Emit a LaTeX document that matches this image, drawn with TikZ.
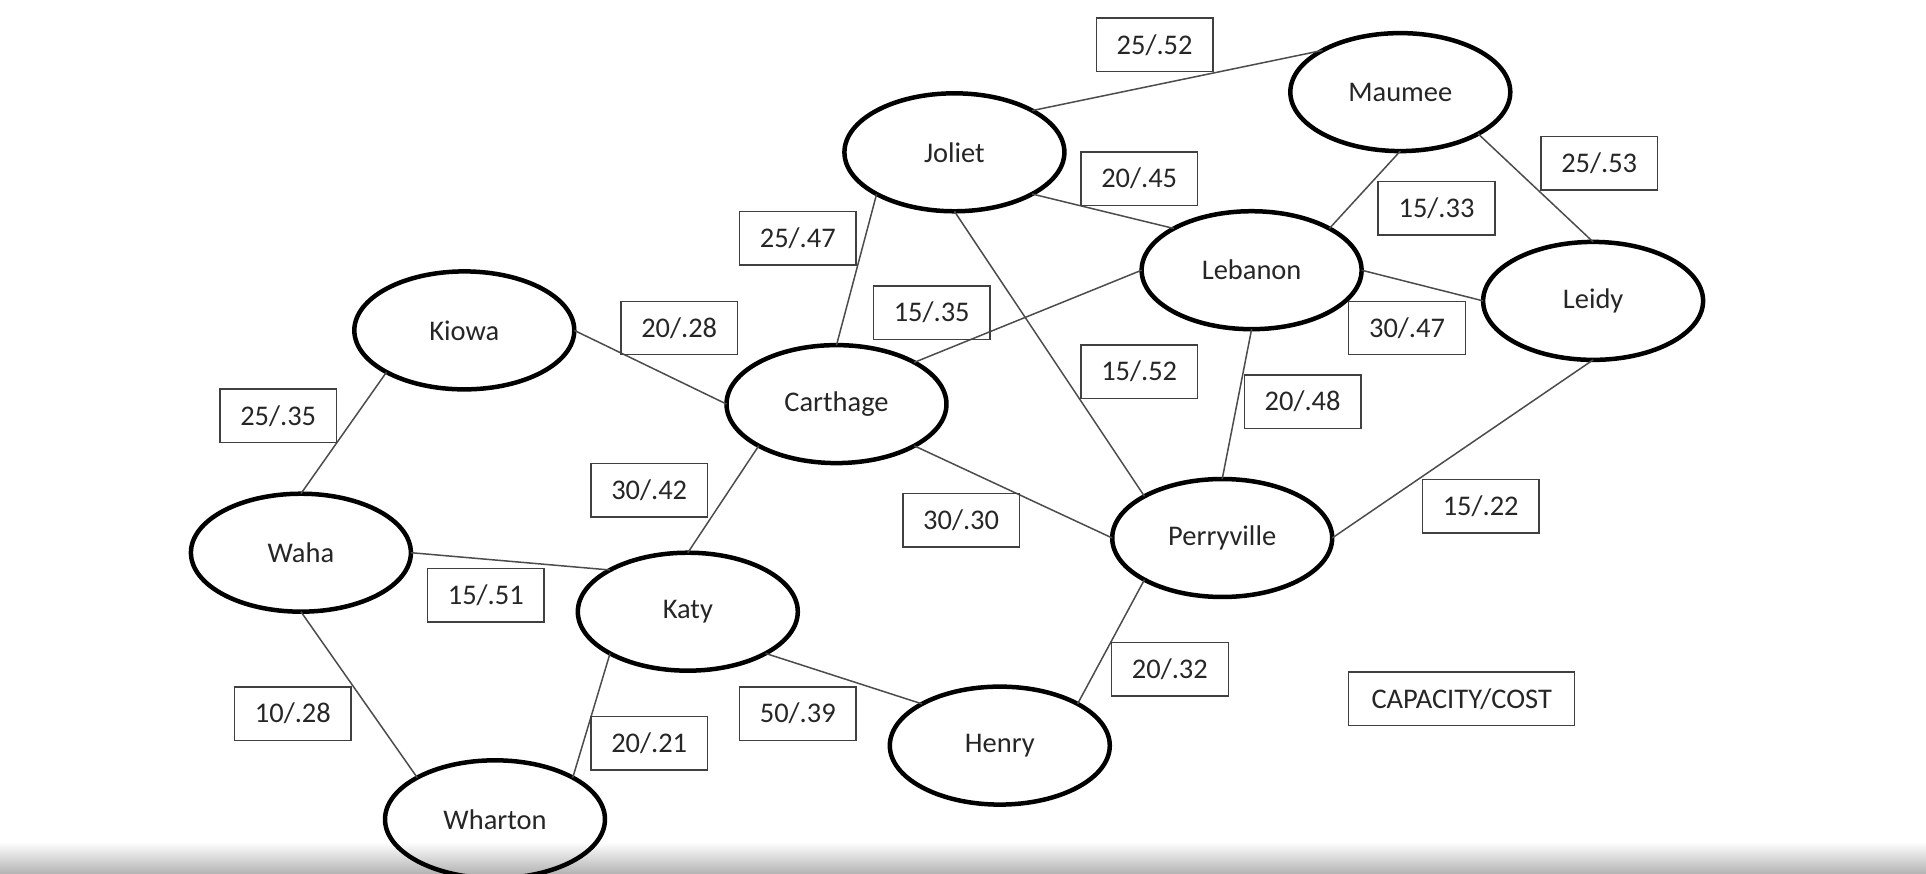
\documentclass[tikz,border=0pt]{standalone}
\usepackage{fontspec}
\setmainfont{Carlito}
\usetikzlibrary{shapes.geometric}
\begin{document}
\begin{tikzpicture}[x=0.02cm,y=-0.02cm,
  city/.style={ellipse, draw=black, line width=0.09cm, minimum width=4.4cm, minimum height=2.36cm,
    inner sep=0pt, outer sep=0pt, font=\fontsize{16.2}{19}\selectfont, text=black!85},
  lab/.style={draw=black!75, line width=0.03cm, minimum width=2.334cm, minimum height=1.068cm,
    inner sep=0pt, font=\fontsize{16.2}{19}\selectfont, text=black!85},
  link/.style={draw=black!70, line width=0.03cm}]
\clip (0,0) rectangle (1926,874);
\useasboundingbox (0,0) rectangle (1926,874);
\fill[white] (0,0) rectangle (1926,874);
\shade[top color=white, bottom color=black!30] (0,842) rectangle (1926,874);

% cities
\node[city] (joliet) at (954.4,152.3) {Joliet};
\node[city] (maumee) at (1400.3,92.1) {Maumee};
\node[city] (lebanon) at (1251.6,270.2) {Lebanon};
\node[city] (leidy) at (1593.1,300.9) {Leidy};
\node[city] (kiowa) at (464.3,330.4) {Kiowa};
\node[city] (carthage) at (836.5,404.1) {Carthage};
\node[city] (waha) at (300.9,552.7) {Waha};
\node[city] (katy) at (687.8,611.7) {Katy};
\node[city] (perryville) at (1222.2,538.0) {Perryville};
\node[city] (henry) at (999.8,745.6) {Henry};
\node[city] (wharton) at (495.0,819.3) {Wharton};

% links
\draw[link] (joliet.north east) -- (maumee.north west);
\draw[link] (joliet.south east) -- (lebanon.north west);
\draw[link] (joliet.south west) -- (carthage.north);
\draw[link] (joliet.south) -- (perryville.north west);
\draw[link] (maumee.south) -- (lebanon.north east);
\draw[link] (maumee.south east) -- (leidy.north);
\draw[link] (lebanon.east) -- (leidy.west);
\draw[link] (lebanon.west) -- (carthage.north east);
\draw[link] (lebanon.south) -- (perryville.north);
\draw[link] (leidy.south) -- (perryville.east);
\draw[link] (kiowa.east) -- (carthage.west);
\draw[link] (kiowa.south west) -- (waha.north);
\draw[link] (carthage.south west) -- (katy.north);
\draw[link] (carthage.south east) -- (perryville.west);
\draw[link] (waha.east) -- (katy.north west);
\draw[link] (waha.south) -- (wharton.north west);
\draw[link] (katy.south west) -- (wharton.north east);
\draw[link] (katy.south east) -- (henry.north west);
\draw[link] (henry.north east) -- (perryville.south west);

% labels
\node[lab] (l1) at (1154.6,44.8) {25/.52};
\node[lab] (l2) at (1139.2,178.7) {20/.45};
\node[lab] (l3) at (797.8,238.3) {25/.47};
\node[lab] (l4) at (1436.5,208.2) {15/.33};
\node[lab] (l5) at (1599.2,163.4) {25/.53};
\node[lab] (l6) at (1407.0,328.0) {30/.47};
\node[lab] (l7) at (931.7,312.6) {15/.35};
\node[lab] (l8) at (679.2,328.0) {20/.28};
\node[lab] (l9) at (1139.2,371.6) {15/.52};
\node[lab] (l10) at (1302.6,401.7) {20/.48};
\node[lab] (l11) at (278.2,415.8) {25/.35};
\node[lab] (l12) at (649.2,490.1) {30/.42};
\node[lab] (l13) at (961.1,520.2) {30/.30};
\node[lab] (l14) at (1480.7,506.1) {15/.22};
\node[lab] (l15) at (485.8,595.1) {15/.51};
\node[lab] (l16) at (1169.9,669.4) {20/.32};
\node[lab] (l17) at (292.9,713.6) {10/.28};
\node[lab] (l18) at (797.8,713.6) {50/.39};
\node[lab] (l19) at (649.2,743.1) {20/.21};
\node[lab, minimum width=4.52cm] (legend) at (1461.7,698.9) {CAPACITY/COST};
\end{tikzpicture}
\end{document}
